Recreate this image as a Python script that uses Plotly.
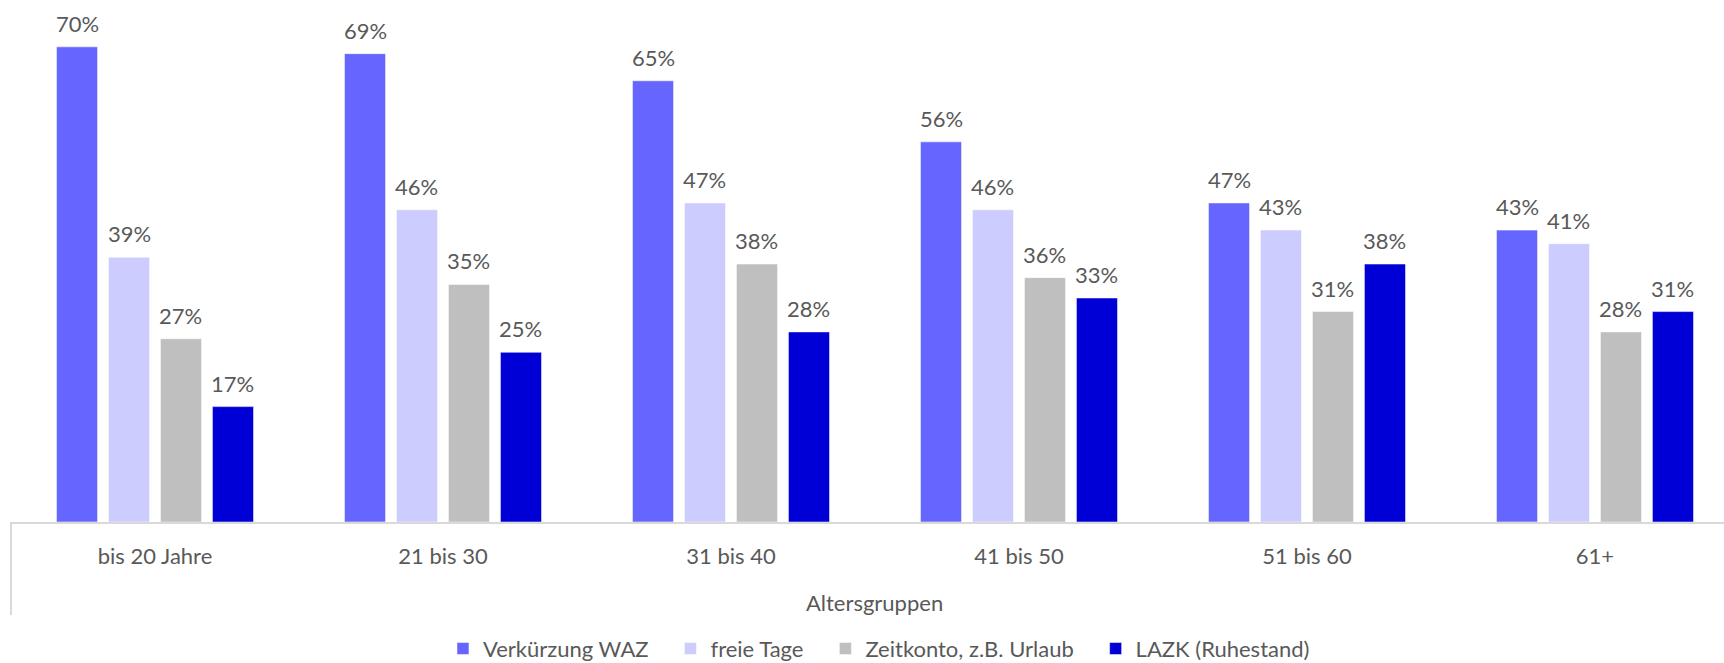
import plotly.graph_objects as go

# Age groups on the category axis
altersgruppen = ["bis 20 Jahre", "21 bis 30", "31 bis 40", "41 bis 50", "51 bis 60", "61+"]

# Share of respondents per preferred option (percent)
verkuerzung_waz = [70, 69, 65, 56, 47, 43]
freie_tage = [39, 46, 47, 46, 43, 41]
zeitkonto = [27, 35, 38, 36, 31, 28]
lazk = [17, 25, 28, 33, 38, 31]

series_names = ["Verkürzung WAZ", "freie Tage", "Zeitkonto, z.B. Urlaub", "LAZK (Ruhestand)"]
series_values = [verkuerzung_waz, freie_tage, zeitkonto, lazk]
series_colors = ["#6666FF", "#CCCCFF", "#BFBFBF", "#0000D6"]

FONT = "Lato"
TEXT_COLOR = "#595959"
AXIS_COLOR = "#D9D9D9"

W, H = 1724, 663
M_L, M_R, M_T, M_B = 11, 0, 0, 141
BARGAP = 0.278
BARGROUPGAP = 0.21
X_RANGE = [-0.5, 5.448]
Y_RANGE = [0, 76.9]
LEGEND_PAD = "\u00a0\u00a0\u00a0"  # extra room between legend entries

fig = go.Figure()
for k, (name, vals, col) in enumerate(zip(series_names, series_values, series_colors)):
    pad = LEGEND_PAD if k < len(series_names) - 1 else ""
    fig.add_trace(go.Bar(
        x=altersgruppen, y=vals, name=name + pad,
        marker=dict(color=col, line=dict(color="white", width=0.5)),
        hoverinfo="skip",
    ))

# Value labels above each bar, shifted sideways to its slot within the group
plot_w = W - M_L - M_R
cat_px = plot_w / (X_RANGE[1] - X_RANGE[0])
slot_px = cat_px * (1 - BARGAP) / len(series_values)
annotations = []
for j, vals in enumerate(series_values):
    offset = (j - (len(series_values) - 1) / 2) * slot_px
    for cat, v in zip(altersgruppen, vals):
        annotations.append(dict(
            x=cat, y=v, xref="x", yref="y", text=f"{v}%",
            showarrow=False, xanchor="center", yanchor="bottom",
            xshift=offset, yshift=8,
            font=dict(family=FONT, size=22, color=TEXT_COLOR),
        ))

# Axis title below the category labels
annotations.append(dict(
    x=0.5038, y=-0.155, xref="paper", yref="paper", text="Altersgruppen",
    showarrow=False, xanchor="center", yanchor="middle",
    font=dict(family=FONT, size=22, color=TEXT_COLOR),
))

fig.update_layout(
    width=W, height=H,
    margin=dict(l=M_L, r=M_R, t=M_T, b=M_B, pad=0, autoexpand=False),
    paper_bgcolor="white", plot_bgcolor="white",
    barmode="group", bargap=BARGAP, bargroupgap=BARGROUPGAP,
    font=dict(family=FONT, size=22, color=TEXT_COLOR),
    annotations=annotations,
    showlegend=True,
    legend=dict(
        orientation="h", x=0.5067, xanchor="center", y=-0.283, yanchor="bottom",
        font=dict(family=FONT, size=22, color=TEXT_COLOR),
        itemclick=False, itemdoubleclick=False,
    ),
    shapes=[dict(
        type="line", xref="paper", yref="paper", x0=0, x1=0, y0=0, y1=-0.178,
        line=dict(color=AXIS_COLOR, width=2),
    )],
)
fig.update_xaxes(
    range=X_RANGE, showline=True, linecolor=AXIS_COLOR, linewidth=2,
    ticks="outside", ticklen=0, tickcolor="white", ticklabelstandoff=14,
    tickfont=dict(family=FONT, size=22, color=TEXT_COLOR),
    showgrid=False, zeroline=False, fixedrange=True, automargin=False,
)
fig.update_yaxes(
    range=Y_RANGE, visible=False, showgrid=False, zeroline=False, fixedrange=True,
    automargin=False,
)

fig.write_html("out.html", config=dict(displayModeBar=False))
